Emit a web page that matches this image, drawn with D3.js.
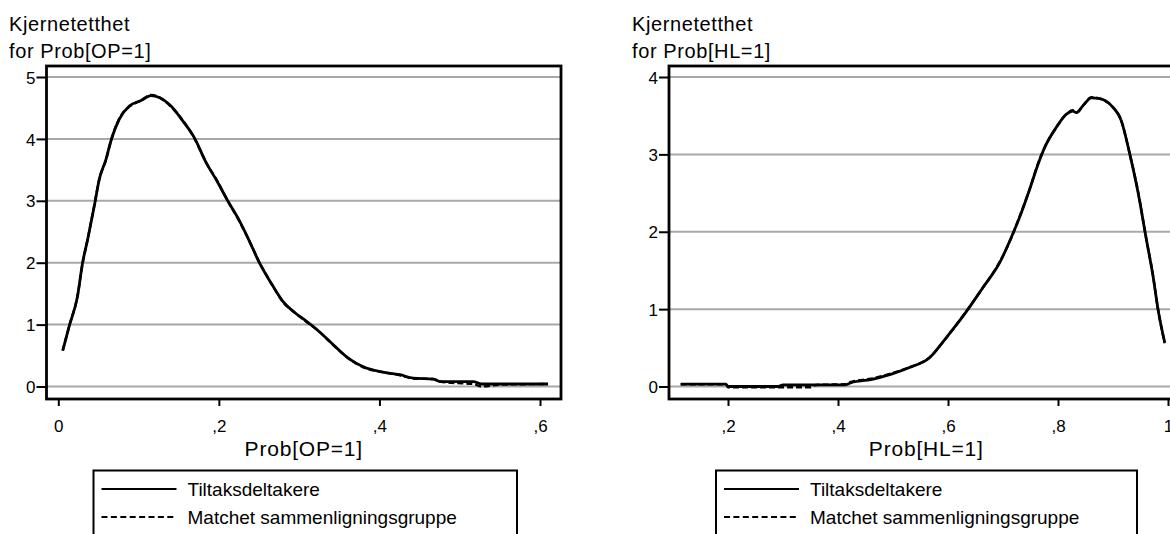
<!DOCTYPE html>
<html>
<head>
<meta charset="utf-8">
<script src="https://cdn.jsdelivr.net/npm/d3@7"></script>
<style>
  body { margin: 0; background: #fff; }
  text { font-family: "Liberation Sans", Arial, sans-serif; fill: #000; }
</style>
</head>
<body>
<svg id="svg1"></svg>
<script>
w = 1170;
h = 534;

// Left panel: Prob[OP=1]
var opX       = [0.0055, 0.0137, 0.024, 0.030, 0.0366, 0.0449, 0.0511, 0.0594, 0.0656, 0.076, 0.0885, 0.103, 0.1155, 0.1258, 0.1404, 0.155, 0.1694, 0.184, 0.1985, 0.211, 0.2255, 0.238, 0.2504, 0.267, 0.2795, 0.294, 0.3085, 0.322, 0.3425, 0.361, 0.38, 0.4007, 0.4256, 0.442, 0.467, 0.4755, 0.49, 0.517, 0.527, 0.55, 0.61];
var opTiltak  = [0.58, 0.98, 1.46, 1.98, 2.38, 2.92, 3.35, 3.67, 3.97, 4.32, 4.53, 4.62, 4.70, 4.67, 4.53, 4.29, 4.02, 3.62, 3.30, 3.00, 2.68, 2.35, 2.00, 1.63, 1.38, 1.20, 1.06, 0.92, 0.675, 0.46, 0.32, 0.24, 0.19, 0.135, 0.12, 0.08, 0.08, 0.08, 0.04, 0.04, 0.04];
var opMatchet = [0.58, 0.98, 1.47, 1.97, 2.38, 2.93, 3.35, 3.66, 3.97, 4.33, 4.52, 4.62, 4.71, 4.67, 4.52, 4.30, 4.01, 3.62, 3.31, 3.00, 2.67, 2.35, 2.01, 1.63, 1.37, 1.20, 1.05, 0.92, 0.67, 0.46, 0.31, 0.24, 0.18, 0.13, 0.12, 0.08, 0.06, 0.04, 0.00, 0.03, 0.04];
var opTickVals = [0, 0.2, 0.4, 0.6];
var opTickLabels = ["0", ",2", ",4", ",6"];
var opYTicks = [0, 1, 2, 3, 4, 5];

// Right panel: Prob[HL=1]
var hlX       = [0.114, 0.196, 0.200, 0.29, 0.30, 0.35, 0.36, 0.412, 0.424, 0.46, 0.497, 0.530, 0.567, 0.597, 0.630, 0.6636, 0.694, 0.715, 0.7335, 0.7485, 0.7636, 0.7758, 0.797, 0.8153, 0.827, 0.8335, 0.8455, 0.8607, 0.876, 0.897, 0.9153, 0.930, 0.9455, 0.9607, 0.9727, 0.9818, 0.994];
var hlTiltak  = [0.03, 0.03, 0.00, 0.00, 0.02, 0.02, 0.02, 0.02, 0.05, 0.09, 0.16, 0.245, 0.375, 0.633, 0.935, 1.28, 1.60, 1.925, 2.25, 2.55, 2.87, 3.09, 3.35, 3.52, 3.56, 3.54, 3.63, 3.73, 3.72, 3.63, 3.43, 3.02, 2.51, 1.90, 1.43, 1.00, 0.57];
var hlMatchet = [0.03, 0.03, -0.01, -0.01, -0.01, -0.01, 0.02, 0.03, 0.06, 0.10, 0.17, 0.25, 0.38, 0.63, 0.94, 1.28, 1.61, 1.92, 2.26, 2.55, 2.88, 3.09, 3.35, 3.52, 3.57, 3.54, 3.63, 3.74, 3.72, 3.63, 3.43, 3.02, 2.52, 1.90, 1.44, 1.00, 0.56];
var hlTickVals = [0.2, 0.4, 0.6, 0.8, 1.0];
var hlTickLabels = [",2", ",4", ",6", ",8", "1"];
var hlYTicks = [0, 1, 2, 3, 4];

var legendLabels = ["Tiltaksdeltakere", "Matchet sammenligningsgruppe"];

var svg1 = d3.select('#svg1').attr('width', w).attr('height', h);

function drawPanel(p) {
  var g = svg1.append('g');
  var x = d3.scaleLinear().domain(p.xDomain).range(p.xRange);
  var y = d3.scaleLinear().domain(p.yDomain).range([386.5, 77]);

  // y title (two lines)
  g.append('text').attr('x', p.titleX).attr('y', 31)
      .style('font-size', '20px').style('letter-spacing', '0.6px').text('Kjernetetthet');
  g.append('text').attr('x', p.titleX).attr('y', 58)
      .style('font-size', '20px').style('letter-spacing', '0.6px').text('for ' + p.name);

  // gridlines
  g.selectAll('.grid').data(p.yTicks).enter().append('line')
      .attr('x1', p.frame[0]).attr('x2', p.frame[1])
      .attr('y1', function(d) { return y(d); })
      .attr('y2', function(d) { return y(d); })
      .attr('stroke', '#a8a8a8').attr('stroke-width', 2);

  // frame
  g.append('rect')
      .attr('x', p.frame[0]).attr('y', 66)
      .attr('width', p.frame[1] - p.frame[0]).attr('height', 333)
      .attr('fill', 'none').attr('stroke', '#000').attr('stroke-width', 2.8);

  // y axis
  var yAxis = g.append('g').attr('transform', 'translate(' + p.frame[0] + ',0)')
      .call(d3.axisLeft(y).tickValues(p.yTicks).tickSize(10).tickPadding(1).tickFormat(d3.format('d')));
  yAxis.select('.domain').remove();
  yAxis.selectAll('line').attr('stroke', '#000').attr('stroke-width', 2);
  yAxis.selectAll('text').style('font-size', '17px').style('font-family', '"Liberation Sans", Arial, sans-serif').attr('dy', '0.36em');

  // x axis
  var xAxis = g.append('g').attr('transform', 'translate(0,399)')
      .call(d3.axisBottom(x).tickValues(p.xTicks).tickSize(7).tickPadding(14)
        .tickFormat(function(d, i) { return p.xLabels[i]; }));
  xAxis.select('.domain').remove();
  xAxis.selectAll('line').attr('stroke', '#000').attr('stroke-width', 2);
  xAxis.selectAll('text').style('font-size', '17px').style('font-family', '"Liberation Sans", Arial, sans-serif');

  g.append('text')
      .attr('x', (p.frame[0] + p.frame[1]) / 2).attr('y', 456)
      .attr('text-anchor', 'middle').style('font-size', '21px').style('letter-spacing', '0.8px')
      .text(p.name);

  // curves
  var line = d3.line()
      .curve(d3.curveMonotoneX)
      .x(function(d) { return x(d[0]); })
      .y(function(d) { return y(d[1]); });
  var solid = d3.zip(p.xs, p.solid);
  var dashed = d3.zip(p.xs, p.dashed);
  g.append('path').attr('d', line(solid)).attr('fill', 'none')
      .attr('stroke', '#000').attr('stroke-width', 2.8).attr('stroke-linejoin', 'round');
  g.append('path').attr('d', line(dashed)).attr('fill', 'none')
      .attr('stroke', '#000').attr('stroke-width', 2.4).attr('stroke-dasharray', '6,3');

  // legend
  var lx = p.legend[0], lw = p.legend[1];
  g.append('rect').attr('x', lx).attr('y', 470.5).attr('width', lw).attr('height', 80)
      .attr('fill', '#fff').attr('stroke', '#000').attr('stroke-width', 2);
  var rows = [489, 517];
  for (var i = 0; i < legendLabels.length; i++) {
    g.append('line')
        .attr('x1', lx + 8).attr('x2', lx + 83)
        .attr('y1', rows[i]).attr('y2', rows[i])
        .attr('stroke', '#000').attr('stroke-width', 2)
        .attr('stroke-dasharray', i == 0 ? null : '6,3.4');
    g.append('text')
        .attr('x', lx + 94).attr('y', rows[i]).attr('dy', '0.36em')
        .style('font-size', '19px')
        .text(legendLabels[i]);
  }
}

drawPanel({
  name: 'Prob[OP=1]', titleX: 9,
  xDomain: [0, 0.6], xRange: [58.3, 540], yDomain: [0, 5],
  frame: [46.5, 561], yTicks: opYTicks, xTicks: opTickVals, xLabels: opTickLabels,
  xs: opX, solid: opTiltak, dashed: opMatchet, legend: [93.5, 423.5]
});

drawPanel({
  name: 'Prob[HL=1]', titleX: 632,
  xDomain: [0.2, 1.0], xRange: [728, 1168], yDomain: [0, 4],
  frame: [669, 1183.5], yTicks: hlYTicks, xTicks: hlTickVals, xLabels: hlTickLabels,
  xs: hlX, solid: hlTiltak, dashed: hlMatchet, legend: [716, 421]
});
</script>
</body>
</html>
